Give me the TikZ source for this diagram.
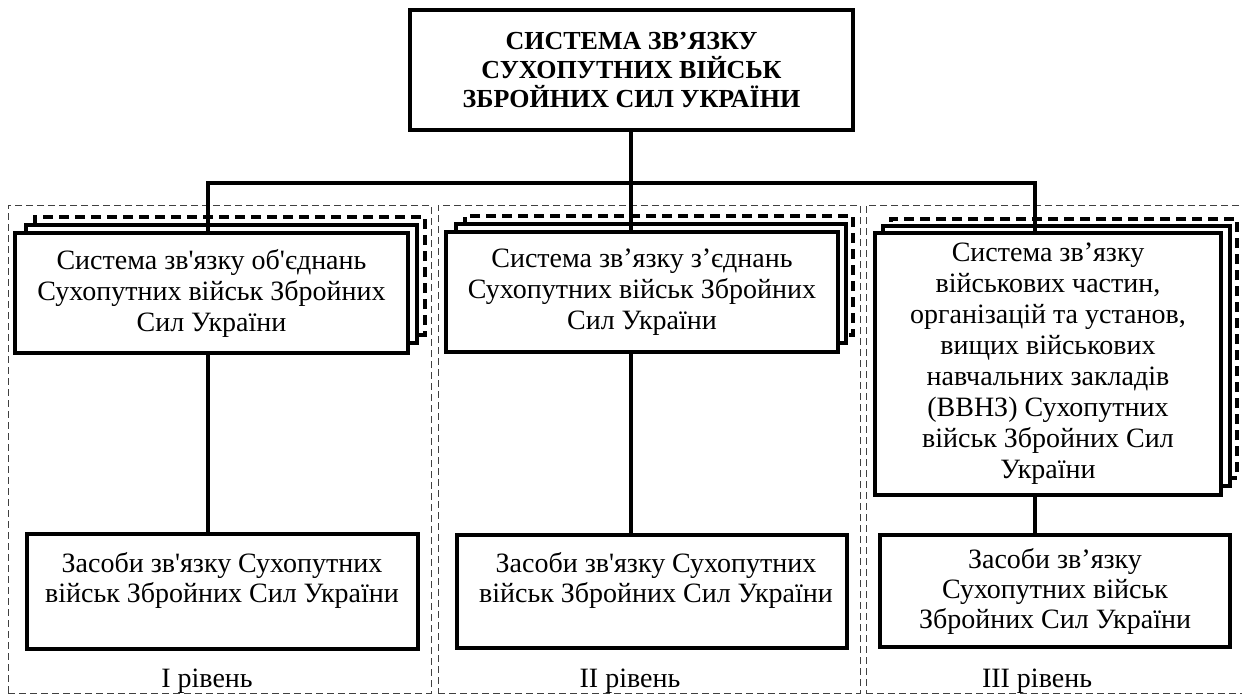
\documentclass[tikz,border=0pt]{standalone}
\usepackage{fontspec}
\setmainfont{Liberation Serif}[Ligatures=TeXOff]
\usetikzlibrary{fit}
\begin{document}
\begin{tikzpicture}[x=0.5pt,y=-0.5pt,
  box/.style={draw=black, line width=1.6pt, fill=white, inner sep=0pt},
  backdash/.style={draw=black, line width=1.6pt, fill=white, dash pattern=on 5pt off 3pt, inner sep=0pt},
  panel/.style={draw=black!75, line width=0.5pt, dash pattern=on 3.5pt off 2pt, inner sep=0pt},
  conn/.style={draw=black, line width=1.8pt, line join=miter},
  txt/.style={align=center, font=\fontsize{14}{15.5}\selectfont, inner sep=0pt},
  btxt/.style={align=center, font=\fontsize{14}{15}\selectfont, inner sep=0pt},
  toptxt/.style={align=center, font=\fontsize{13}{14.5}\selectfont\bfseries, inner sep=0pt},
  lvl/.style={anchor=base, font=\fontsize{14}{15}\selectfont, inner sep=0pt}
]
\useasboundingbox (0,0) rectangle (1242,698);
\fill[white] (0,0) rectangle (1242,698);

% panels
\node[panel, fit={(8,205) (431,693)}] (p1) {};
\node[panel, fit={(438,205) (860,693)}] (p2) {};
\node[panel, fit={(866,205) (1243,693)}] (p3) {};

% top box
\node[box, fit={(410,10) (853,130)}] (top) {};
\node[toptxt] (ttop) at (top.center) {СИСТЕМА ЗВ’ЯЗКУ\\СУХОПУТНИХ ВІЙСЬК\\ЗБРОЙНИХ СИЛ УКРАЇНИ};

% stack 1
\node[backdash, fit={(35,217) (425,335)}] (k1) {};
\node[box, fit={(26,225) (417,343)}] (m1) {};
\node[box, fit={(15,233) (408,353)}] (f1) {};
\node[txt] (t1) at (f1.center) {Система зв'язку об'єднань\\Сухопутних військ Збройних\\Сил України};

% stack 2
\node[backdash, fit={(465,216) (853,335)}] (k2) {};
\node[box, fit={(456,224) (846,343)}] (m2) {};
\node[box, fit={(446,232) (838,352)}] (f2) {};
\node[txt] (t2) at (f2.center) {Система зв’язку з’єднань\\Сухопутних військ Збройних\\Сил України};

% stack 3
\node[backdash, fit={(891,219) (1237,478)}] (k3) {};
\node[box, fit={(883,226) (1230,486)}] (m3) {};
\node[box, fit={(875,233) (1221,495)}] (f3) {};
\node[txt] (t3) at (f3.center) {Система зв’язку\\військових частин,\\організацій та установ,\\вищих військових\\навчальних закладів\\(ВВНЗ) Сухопутних\\військ Збройних Сил\\України};

% bottom boxes
\node[box, fit={(27,534) (418,649)}] (b1) {};
\node[btxt] (s1) at (222,580) {Засоби зв'язку Сухопутних\\військ Збройних Сил України};
\node[box, fit={(457,535) (847,648)}] (b2) {};
\node[btxt] (s2) at (656,580) {Засоби зв'язку Сухопутних\\військ Збройних Сил України};
\node[box, fit={(880,535) (1230,647)}] (b3) {};
\node[btxt] (s3) at (b3.center) {Засоби зв’язку\\Сухопутних військ\\Збройних Сил України};

% level labels
\node[lvl] (l1) at (207,687) {I рівень};
\node[lvl] (l2) at (630,687) {II рівень};
\node[lvl] (l3) at (1037,687) {III рівень};

% connectors
\coordinate (busL) at (208,183);
\coordinate (busM) at (631,183);
\coordinate (busR) at (1035,183);
\draw[conn] (busL |- f1.north) -- (busL) -- (busR) -- (busR |- f3.north);
\draw[conn] (busM |- top.south) -- (busM |- f2.north);
\draw[conn] (busL |- f1.south) -- (busL |- b1.north);
\draw[conn] (busM |- f2.south) -- (busM |- b2.north);
\draw[conn] (busR |- f3.south) -- (busR |- b3.north);
\end{tikzpicture}
\end{document}
